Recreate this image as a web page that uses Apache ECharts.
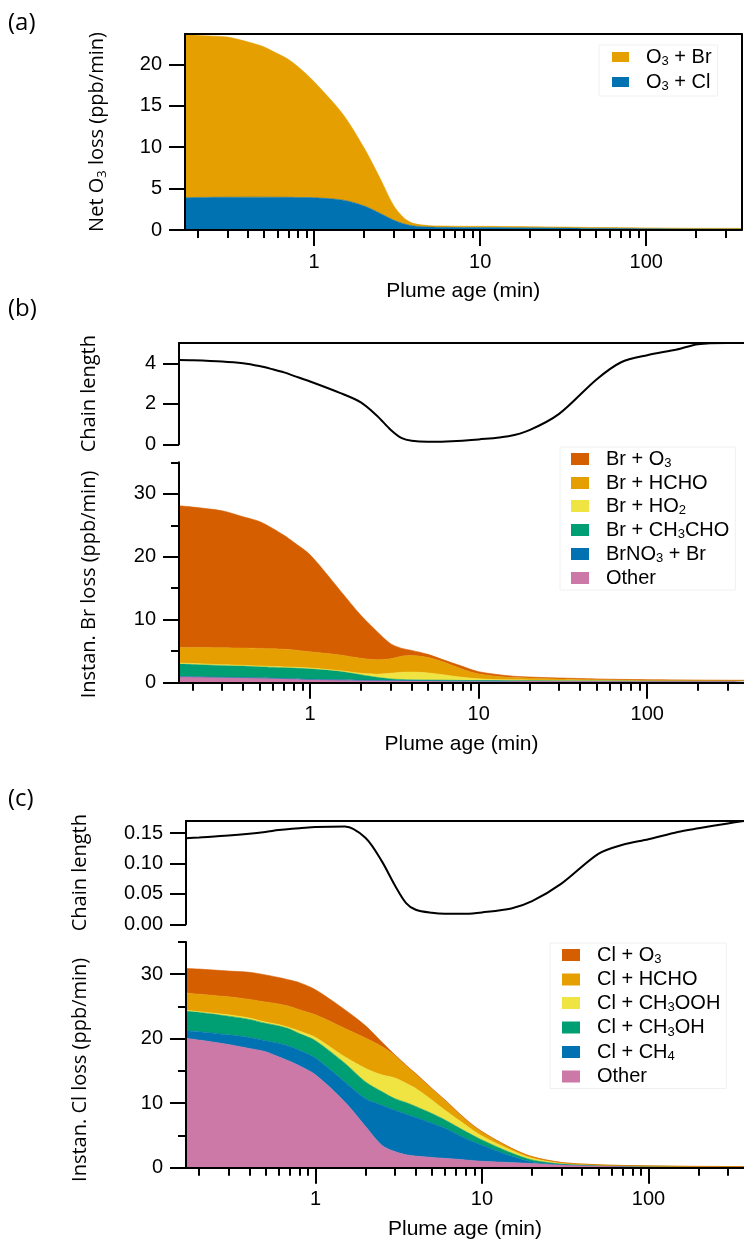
<!DOCTYPE html>
<html><head><meta charset="utf-8">
<script src="https://cdn.jsdelivr.net/npm/echarts@6/dist/echarts.min.js"></script>
<style>html,body{margin:0;padding:0;background:#fff}#c{width:744px;height:1251px}</style>
</head><body><div id="c"></div>
<script>
// ---- data (plume age in minutes) ----
const ages = [0.1667, 0.2, 0.3, 0.4, 0.5, 0.6, 0.7, 0.8, 1, 1.5, 2, 2.5, 3, 3.5, 4, 5, 6, 8, 10, 15, 20, 30, 50, 70, 100, 150, 200, 300, 375];
const majorTicks = [1, 10, 100];
const minorTicks = [0.2,0.3,0.4,0.5,0.6,0.7,0.8,0.9,2,3,4,5,6,7,8,9,20,30,40,50,60,70,80,90,200,300];

// (a) net O3 loss (ppb/min)
const aO3Cl = [3.9, 3.93, 3.96, 3.97, 3.97, 3.96, 3.95, 3.93, 3.9, 3.6, 2.9, 2.0, 1.2, 0.72, 0.48, 0.35, 0.32, 0.3, 0.3, 0.28, 0.27, 0.25, 0.22, 0.2, 0.18, 0.16, 0.15, 0.14, 0.13];
const aO3Br = [19.77, 19.57, 19.34, 18.73, 18.13, 17.34, 16.65, 15.77, 14.0, 10.3, 7.0, 4.2, 1.8, 0.68, 0.29, 0.17, 0.16, 0.15, 0.15, 0.14, 0.13, 0.11, 0.08, 0.08, 0.07, 0.06, 0.05, 0.06, 0.07];

// (b) Br chain length and instantaneous Br loss
const bChain = [4.16, 4.15, 4.09, 4.0, 3.86, 3.7, 3.55, 3.38, 3.1, 2.54, 2.07, 1.4, 0.72, 0.3, 0.17, 0.12, 0.13, 0.18, 0.24, 0.4, 0.7, 1.5, 3.2, 4.05, 4.4, 4.68, 4.94, 5.0, 5.0];
const bOther = [0.95, 0.93, 0.85, 0.8, 0.75, 0.7, 0.65, 0.6, 0.5, 0.42, 0.36, 0.33, 0.3, 0.28, 0.27, 0.26, 0.25, 0.25, 0.25, 0.25, 0.3, 0.3, 0.3, 0.3, 0.3, 0.3, 0.3, 0.3, 0.3];
const bBrNO3 = [0.02, 0.02, 0.02, 0.02, 0.02, 0.02, 0.02, 0.02, 0.03, 0.03, 0.04, 0.05, 0.06, 0.07, 0.07, 0.07, 0.06, 0.05, 0.05, 0.04, 0.03, 0.02, 0.02, 0.01, 0.01, 0.01, 0.01, 0.01, 0.01];
const bCH3CHO = [1.98, 1.95, 1.88, 1.83, 1.78, 1.75, 1.73, 1.71, 1.67, 1.35, 0.85, 0.47, 0.24, 0.15, 0.11, 0.09, 0.09, 0.06, 0.04, 0.03, 0.02, 0.02, 0.01, 0.01, 0.01, 0.01, 0.01, 0.01, 0.01];
const bHO2 = [0.15, 0.15, 0.1, 0.1, 0.1, 0.1, 0.1, 0.12, 0.13, 0.1, 0.25, 0.5, 0.9, 1.15, 1.23, 1.13, 0.9, 0.49, 0.28, 0.13, 0.08, 0.04, 0.02, 0.02, 0.01, 0.01, 0.01, 0.01, 0.01];
const bHCHO = [2.5, 2.55, 2.7, 2.75, 2.8, 2.83, 2.8, 2.75, 2.57, 2.5, 2.37, 2.3, 2.3, 2.55, 2.62, 2.45, 2.1, 1.3, 0.78, 0.4, 0.32, 0.22, 0.15, 0.11, 0.08, 0.06, 0.04, 0.03, 0.03];
const bO3 = [22.5, 22.3, 21.75, 20.85, 20.15, 19.1, 18.1, 17.1, 15.4, 10.3, 6.83, 4.45, 2.4, 1.25, 0.83, 0.5, 0.35, 0.45, 0.35, 0.25, 0.15, 0.15, 0.1, 0.08, 0.06, 0.05, 0.04, 0.03, 0.02];

// (c) Cl chain length and instantaneous Cl loss
const cChain = [0.1417, 0.143, 0.146, 0.149, 0.152, 0.155, 0.157, 0.158, 0.160, 0.161, 0.142, 0.104, 0.064, 0.035, 0.024, 0.019, 0.0175, 0.0175, 0.0195, 0.026, 0.038, 0.067, 0.116, 0.131, 0.14, 0.152, 0.158, 0.166, 0.17];
const cOther = [20.05, 19.8, 19.1, 18.5, 18.0, 17.2, 16.5, 15.8, 14.4, 10.2, 6.4, 3.5, 2.5, 2.0, 1.8, 1.6, 1.45, 1.2, 1.0, 0.8, 0.65, 0.45, 0.3, 0.25, 0.2, 0.17, 0.15, 0.13, 0.12];
const cCH4 = [1.15, 1.3, 1.5, 1.7, 1.7, 2.1, 2.3, 2.4, 2.6, 3.1, 4.3, 6.2, 6.4, 6.3, 6.0, 5.3, 4.65, 3.3, 2.5, 1.0, 0.25, 0.05, 0.03, 0.02, 0.02, 0.01, 0.01, 0.01, 0.01];
const cCH3OH = [3.1, 3.0, 2.9, 2.8, 2.7, 2.7, 2.7, 2.6, 2.7, 2.9, 2.6, 2.1, 1.8, 1.8, 1.7, 1.5, 1.3, 1.1, 0.8, 0.5, 0.3, 0.1, 0.03, 0.02, 0.01, 0.01, 0.01, 0.01, 0.01];
const cCH3OOH = [0.1, 0.1, 0.2, 0.2, 0.2, 0.2, 0.2, 0.4, 0.5, 1.0, 2.1, 2.6, 3.2, 3.0, 2.8, 2.1, 1.5, 1.0, 0.6, 0.4, 0.25, 0.1, 0.04, 0.02, 0.02, 0.01, 0.01, 0.01, 0.01];
const cHCHO = [2.7, 2.7, 2.8, 2.9, 3.1, 3.2, 3.3, 3.3, 3.5, 4.4, 4.7, 4.4, 3.5, 2.7, 2.2, 1.7, 1.5, 0.8, 0.65, 0.3, 0.25, 0.1, 0.05, 0.03, 0.02, 0.02, 0.02, 0.02, 0.02];
const cO3 = [3.8, 3.9, 4.0, 4.2, 4.2, 4.1, 4.1, 4.2, 3.9, 2.9, 1.9, 0.7, 0.1, 0.1, 0.1, 0.1, 0.1, 0.1, 0.05, 0.05, 0.02, 0.02, 0.01, 0.01, 0.01, 0.01, 0.01, 0.01, 0.01];

// y tick values
const aYTicks = [0, 5, 10, 15, 20];
const bChainTicks = [0, 2, 4];
const lossMajor = [0, 10, 20, 30];
const lossMinor = [5, 15, 25, 35];
const cChainTicks = [0, 0.05, 0.10, 0.15];

// ---- styling ----
const C = {verm:'#D55E00', orange:'#E69F00', yellow:'#F0E442', green:'#009E73', blue:'#0072B2', pink:'#CC79A7'};
const TF = 'Liberation Sans';
const YF = 'Open Sans';
const L = Math.log10;
const xMin = L(ages[0]), xMax = L(ages[ages.length - 1]);
const blk = {color:'#000', width:2};

const richLegend = {
  g: {width: 12},
  n: {fontFamily: TF, fontSize: 20, lineHeight: 22, color: '#000'},
  s: {fontFamily: TF, fontSize: 13, lineHeight: 11, verticalAlign: 'bottom', color: '#000'}
};
const legendText = {
  'O3 + Br': '{n|O}{s|3}{n| + Br}',
  'O3 + Cl': '{n|O}{s|3}{n| + Cl}',
  'Br + O3': '{n|Br + O}{s|3}',
  'Br + HCHO': '{n|Br + HCHO}',
  'Br + HO2': '{n|Br + HO}{s|2}',
  'Br + CH3CHO': '{n|Br + CH}{s|3}{n|CHO}',
  'BrNO3 + Br': '{n|BrNO}{s|3}{n| + Br}',
  'Other': '{n|Other}',
  'Cl + O3': '{n|Cl + O}{s|3}',
  'Cl + HCHO': '{n|Cl + HCHO}',
  'Cl + CH3OOH': '{n|Cl + CH}{s|3}{n|OOH}',
  'Cl + CH3OH': '{n|Cl + CH}{s|3}{n|OH}',
  'Cl + CH4': '{n|Cl + CH}{s|4}'
};
const richName = {
  n: {fontFamily: YF, fontSize: 20, lineHeight: 24, color: '#000'},
  s: {fontFamily: YF, fontSize: 13, lineHeight: 13, verticalAlign: 'bottom', color: '#000'}
};

function xMajor(gi) {
  return {type:'value', gridIndex:gi, min:xMin, max:xMax, position:'bottom', z:10,
    axisLine:{show:true, onZero:false, lineStyle:blk},
    axisTick:{show:true, inside:false, length:16, lineStyle:blk, customValues: majorTicks.map(L)},
    axisLabel:{show:true, customValues: majorTicks.map(L), margin:22, fontFamily:TF, fontSize:20, color:'#000',
      formatter: v => String(Math.round(Math.pow(10, v)))},
    splitLine:{show:false},
    name:'Plume age (min)', nameLocation:'middle', nameGap:51,
    nameTextStyle:{fontFamily:TF, fontSize:21, color:'#000'}};
}
function xMinor(gi) {
  return {type:'value', gridIndex:gi, min:xMin, max:xMax, position:'bottom', z:10,
    axisLine:{show:false, onZero:false},
    axisTick:{show:true, inside:false, length:8, lineStyle:blk, customValues: minorTicks.map(L)},
    axisLabel:{show:false}, splitLine:{show:false}};
}
function xTop(gi) {
  return {type:'value', gridIndex:gi, min:xMin, max:xMax, position:'top', z:10,
    axisLine:{show:true, onZero:false, lineStyle:blk},
    axisTick:{show:false}, axisLabel:{show:false}, splitLine:{show:false}};
}
function yMajor(gi, max, ticks, name, gap, fmt, pad) {
  return {type:'value', gridIndex:gi, min:0, max:max, position:'left', z:10,
    axisLine:{show:true, onZero:false, lineStyle:blk},
    axisTick:{show:true, inside:false, length:16, lineStyle:blk, customValues:ticks},
    axisLabel:{show:true, customValues:ticks, margin:23, fontFamily:TF, fontSize:20, color:'#000',
      formatter: fmt || (v => String(v))},
    splitLine:{show:false},
    name:name, nameLocation:'middle', nameRotate:90, nameGap:gap,
    nameTextStyle:{fontFamily:YF, fontSize:20, color:'#000', rich:richName, padding: pad || 0}};
}
function yMinor(gi, max, ticks) {
  return {type:'value', gridIndex:gi, min:0, max:max, position:'left', z:10,
    axisLine:{show:false, onZero:false},
    axisTick:{show:true, inside:false, length:8, lineStyle:blk, customValues:ticks},
    axisLabel:{show:false}, splitLine:{show:false}};
}
function yRight(gi, max) {
  return {type:'value', gridIndex:gi, min:0, max:max, position:'right', z:10,
    axisLine:{show:true, onZero:false, lineStyle:blk},
    axisTick:{show:false}, axisLabel:{show:false}, splitLine:{show:false}};
}
// data rows are [value, log10(age)] so that the stacked dimension is the value
function rows(vals) { return ages.map((t, i) => [vals[i], L(t)]); }
function area(name, vals, color, xi, yi, stack) {
  return {type:'line', name:name, xAxisIndex:xi, yAxisIndex:yi, stack:stack, color:color,
    data: rows(vals), encode:{x:1, y:0},
    smooth:0.3, symbol:'none', showSymbol:false,
    lineStyle:{width:0.6, color:color}, areaStyle:{color:color, opacity:1},
    emphasis:{disabled:true}, silent:true, z:2};
}
function chain(vals, xi, yi) {
  return {type:'line', name:'chain', xAxisIndex:xi, yAxisIndex:yi, color:'#000',
    data: rows(vals), encode:{x:1, y:0},
    smooth:0.3, symbol:'none', showSymbol:false,
    lineStyle:{width:2, color:'#000'}, emphasis:{disabled:true}, silent:true, z:3};
}
function legend(names, left, top, pad, gap, iw, ih) {
  return {data:names, orient:'vertical', left:left, top:top, padding:pad, itemGap:gap,
    itemWidth:iw, itemHeight:ih, icon:'rect', selectedMode:false,
    backgroundColor:'#fff', borderColor:'#f0f0f0', borderWidth:1,
    formatter: n => '{g|}' + legendText[n],
    textStyle:{fontFamily:TF, fontSize:20, color:'#000', rich:richLegend}};
}

const chart = echarts.init(document.getElementById('c'), null, {renderer:'canvas'});
chart.setOption({
  animation:false,
  backgroundColor:'#fff',
  grid:[
    {left:185, top:34, width:556.5, height:196},
    {left:179, top:343, width:574, height:101.3},
    {left:179, top:462.3, width:574, height:220.4},
    {left:186, top:821, width:564, height:103.3},
    {left:186, top:942, width:564, height:225.7}
  ],
  xAxis:[
    xMajor(0), xMinor(0), xTop(0),
    xTop(1),
    xMajor(2), xMinor(2),
    xTop(3),
    xMajor(4), xMinor(4)
  ],
  yAxis:[
    yMajor(0, 23.67, aYTicks, '{n|Net O}{s|3}{n| loss (ppb/min)}', 76), yRight(0, 23.67),
    yMajor(1, 5, bChainTicks, 'Chain length', 80),
    yMajor(2, 35, lossMajor, 'Instan. Br loss (ppb/min)', 80, null, [0, 24, 0, 0]), yMinor(2, 35, lossMinor),
    yMajor(3, 0.17, cChainTicks, 'Chain length', 96, v => v.toFixed(2)),
    yMajor(4, 35, lossMajor, 'Instan. Cl loss (ppb/min)', 96, null, [0, 30, 0, 0]), yMinor(4, 35, lossMinor)
  ],
  legend:[
    legend(['O3 + Br', 'O3 + Cl'], 599, 45, [2, 6, 3, 13], 4, 17, 10),
    legend(['Br + O3', 'Br + HCHO', 'Br + HO2', 'Br + CH3CHO', 'BrNO3 + Br', 'Other'], 560, 447, [2, 6, 2, 11], 3, 18, 12),
    legend(['Cl + O3', 'Cl + HCHO', 'Cl + CH3OOH', 'Cl + CH3OH', 'Cl + CH4', 'Other'], 550, 943, [2, 6, 2, 12], 3.5, 18, 12)
  ],
  graphic:[
    {type:'text', left:8, top:11, style:{text:'(a)', font:'24px "Open Sans"', fill:'#000'}},
    {type:'text', left:8, top:297, style:{text:'(b)', font:'24px "Open Sans"', fill:'#000'}},
    {type:'text', left:8, top:787, style:{text:'(c)', font:'24px "Open Sans"', fill:'#000'}}
  ],
  series:[
    area('O3 + Cl', aO3Cl, C.blue, 0, 0, 'a'),
    area('O3 + Br', aO3Br, C.orange, 0, 0, 'a'),
    chain(bChain, 3, 2),
    area('Other', bOther, C.pink, 4, 3, 'b'),
    area('BrNO3 + Br', bBrNO3, C.blue, 4, 3, 'b'),
    area('Br + CH3CHO', bCH3CHO, C.green, 4, 3, 'b'),
    area('Br + HO2', bHO2, C.yellow, 4, 3, 'b'),
    area('Br + HCHO', bHCHO, C.orange, 4, 3, 'b'),
    area('Br + O3', bO3, C.verm, 4, 3, 'b'),
    chain(cChain, 6, 5),
    area('Other', cOther, C.pink, 7, 6, 'c'),
    area('Cl + CH4', cCH4, C.blue, 7, 6, 'c'),
    area('Cl + CH3OH', cCH3OH, C.green, 7, 6, 'c'),
    area('Cl + CH3OOH', cCH3OOH, C.yellow, 7, 6, 'c'),
    area('Cl + HCHO', cHCHO, C.orange, 7, 6, 'c'),
    area('Cl + O3', cO3, C.verm, 7, 6, 'c')
  ]
});
</script>
</body></html>
